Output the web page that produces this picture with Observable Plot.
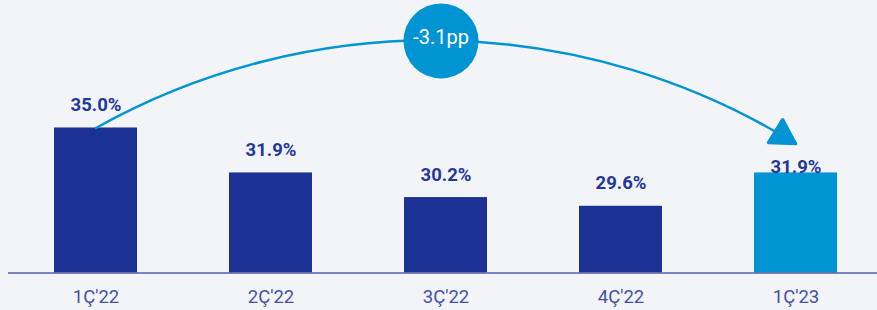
<!DOCTYPE html>
<html><head><meta charset="utf-8">
<script src="https://cdn.jsdelivr.net/npm/d3@7"></script>
<script src="https://cdn.jsdelivr.net/npm/@observablehq/plot@0.6"></script>
<style>
html,body{margin:0;padding:0;background:#f2f4f7;}
</style></head><body><div id="chart"></div>
<script>
const quarters = ["1Ç'22", "2Ç'22", "3Ç'22", "4Ç'22", "1Ç'23"];
const values = [35.0, 31.9, 30.2, 29.6, 31.9];
const highlight = [false, false, false, false, true];
const baseValue = 25;
const changeLabel = "-3.1pp";
const badgeLevel = 41.0;
const arrowEndLevel = 33.9;

const DARK = "#1b3294", LIGHT = "#0094d3", LABEL = "#22389a", TICK = "#4253a6";
const data = quarters.map((q, i) => ({q, v: values[i], hl: highlight[i]}));

const chart = Plot.plot({
  width: 877, height: 310,
  marginLeft: 8, marginRight: 0, marginTop: 0, marginBottom: 37.5,
  style: {background: "#f2f4f7", fontFamily: "Roboto, sans-serif", overflow: "visible"},
  x: {domain: quarters, range: [7.5, 882.5], paddingInner: 0.526, paddingOuter: 0.263, label: null},
  y: {domain: [baseValue, 43.79], axis: null},
  marks: [
    Plot.barY(data, {x: "q", y1: () => baseValue, y2: "v", fill: d => d.hl ? LIGHT : DARK}),
    Plot.ruleY([baseValue], {stroke: "#4f5fb0", strokeWidth: 1.5}),
    Plot.axisX({tickSize: 0, tickPadding: 17, fontSize: 18.5, fill: TICK, label: null}),
    Plot.text(data.filter(d => !d.hl), {x: "q", y: "v", text: d => d.v.toFixed(1) + "%", dy: -23, fontSize: 18.5, fontWeight: 700, fill: LABEL}),
    Plot.text(data.filter(d => d.hl), {x: "q", y: "v", text: d => d.v.toFixed(1) + "%", dy: -6, fontSize: 18.5, fontWeight: 700, fill: LABEL}),
    Plot.arrow([{x1: quarters[0], y1: values[0], x2: quarters[4], y2: arrowEndLevel}], {
      x1: "x1", y1: "y1", x2: "x2", y2: "y2", bend: 30.5, stroke: LIGHT, strokeWidth: 2.5, headLength: 17, headAngle: 60
    }),
    Plot.dot([{x: quarters[2], y: badgeLevel}], {x: "x", y: "y", r: 37.5, fill: LIGHT, dx: -5}),
    Plot.text([{x: quarters[2], y: badgeLevel, t: changeLabel}], {x: "x", y: "y", text: "t", fill: "white", fontSize: 20, dx: -5, dy: -3})
  ]
});

chart.querySelectorAll('g[aria-label="arrow"] path').forEach(p => {
  const d = p.getAttribute("d");
  const k = d.lastIndexOf("M");
  if (k > 0) {
    p.setAttribute("d", d.slice(0, k));
    const head = p.cloneNode();
    head.setAttribute("d", d.slice(k) + "Z");
    head.setAttribute("fill", LIGHT);
    head.setAttribute("stroke-linejoin", "miter");
    p.parentNode.appendChild(head);
  }
});

document.getElementById("chart").appendChild(chart);
</script></body></html>
